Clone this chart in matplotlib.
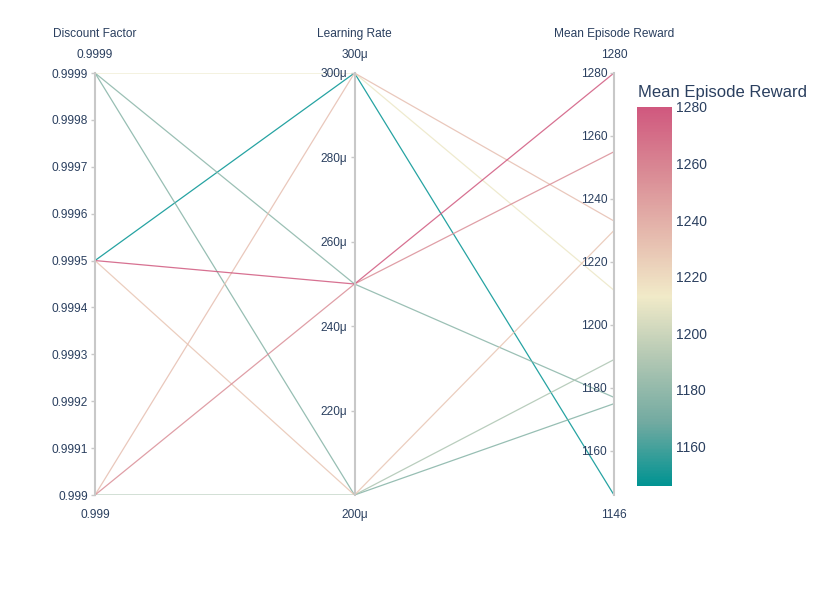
import numpy as np
import matplotlib
matplotlib.use("Agg")
import matplotlib.pyplot as plt
from matplotlib.colors import LinearSegmentedColormap, Normalize
from matplotlib.cm import ScalarMappable

# one line per run (3x3 grid search)
discount = [0.9999, 0.9999, 0.9999, 0.9995, 0.9995, 0.9995, 0.999, 0.999, 0.999]
learning_rate = [300e-6, 250e-6, 200e-6, 300e-6, 250e-6, 200e-6, 300e-6, 250e-6, 200e-6]
reward = [1211, 1177, 1175, 1146, 1280, 1230, 1233, 1255, 1189]

dim_names = ["Discount Factor", "Learning Rate", "Mean Episode Reward"]
discount_ticks = [0.999, 0.9991, 0.9992, 0.9993, 0.9994, 0.9995, 0.9996, 0.9997, 0.9998, 0.9999]
lr_ticks = [220e-6, 240e-6, 260e-6, 280e-6, 300e-6]
reward_ticks = [1160, 1180, 1200, 1220, 1240, 1260, 1280]

TEXT = "#2a3f5f"
plt.rcParams["font.family"] = ["Liberation Sans", "DejaVu Sans"]

tealrose = LinearSegmentedColormap.from_list("tealrose", [
    "#009392", "#72aaa1", "#b1c7b3", "#f1eac8", "#e5b9ad", "#d98994", "#d0587e"])


def fmt_df(v):
    return f"{v:.4f}".rstrip("0")


def fmt_lr(v):
    return f"{v * 1e6:.0f}μ"


def fmt_rw(v):
    return f"{v:.0f}"


dims = [
    (np.array(discount), discount_ticks, fmt_df),
    (np.array(learning_rate), lr_ticks, fmt_lr),
    (np.array(reward, dtype=float), reward_ticks, fmt_rw),
]

fig = plt.figure(figsize=(8.31, 5.93), dpi=100)
W, H = 831, 593
ax = fig.add_axes([95 / W, 1 - 495 / H, (614 - 95) / W, 422 / H])
ax.set_xlim(0, 2)
ax.set_ylim(0, 1)
ax.axis("off")

norm = Normalize(vmin=min(reward), vmax=max(reward))

# normalised coordinates for the host axes
cols = []
for vals, _, _ in dims:
    lo, hi = vals.min(), vals.max()
    cols.append((vals - lo) / (hi - lo))
cols = np.array(cols)

xs = np.arange(len(dims))
order = np.argsort(reward)
for k in order:
    ax.plot(xs, cols[:, k], color=tealrose(norm(reward[k])), lw=0.9, alpha=0.85,
            solid_capstyle="butt", zorder=2)

# one twin axis per dimension, spine placed at the dimension's x
for i, (vals, ticks, fmt) in enumerate(dims):
    lo, hi = vals.min(), vals.max()
    tw = ax.twinx()
    tw.set_xlim(0, 2)
    tw.set_ylim(lo, hi)
    for s in ["top", "bottom", "right"]:
        tw.spines[s].set_visible(False)
    tw.spines["left"].set_visible(True)
    tw.spines["left"].set_position(("data", i))
    tw.spines["left"].set_color("#c8c8c8")
    tw.spines["left"].set_linewidth(1.5)
    tw.spines["left"].set_zorder(1)
    tw.yaxis.set_ticks_position("left")
    tw.set_yticks(ticks)
    tw.set_yticklabels([fmt(t) for t in ticks])
    tw.tick_params(axis="y", length=3, width=1, color="#c8c8c8", pad=2,
                   labelsize=8.6, labelcolor=TEXT)
    tw.set_xticks([])
    tw.patch.set_visible(False)

    ax.annotate(dim_names[i], (i, 1), xytext=(0, 28), textcoords="offset points",
                ha="center", va="center", fontsize=8.6, color=TEXT)
    ax.annotate(fmt(hi), (i, 1), xytext=(0, 13), textcoords="offset points",
                ha="center", va="center", fontsize=8.6, color=TEXT)
    ax.annotate(fmt(lo), (i, 0), xytext=(0, -14.5), textcoords="offset points",
                ha="center", va="center", fontsize=8.6, color=TEXT)

# colour bar
cax = fig.add_axes([637 / W, 1 - 486 / H, 35 / W, 379 / H])
cb = fig.colorbar(ScalarMappable(norm=norm, cmap=tealrose), cax=cax)
cb.outline.set_visible(False)
cb.set_ticks(reward_ticks)
cax.tick_params(length=0, pad=3, labelsize=10, labelcolor=TEXT)
fig.text(638 / W, 1 - 93 / H, "Mean Episode Reward", ha="left", va="center",
         fontsize=12, color=TEXT)

fig.savefig("out.png", dpi=100)
